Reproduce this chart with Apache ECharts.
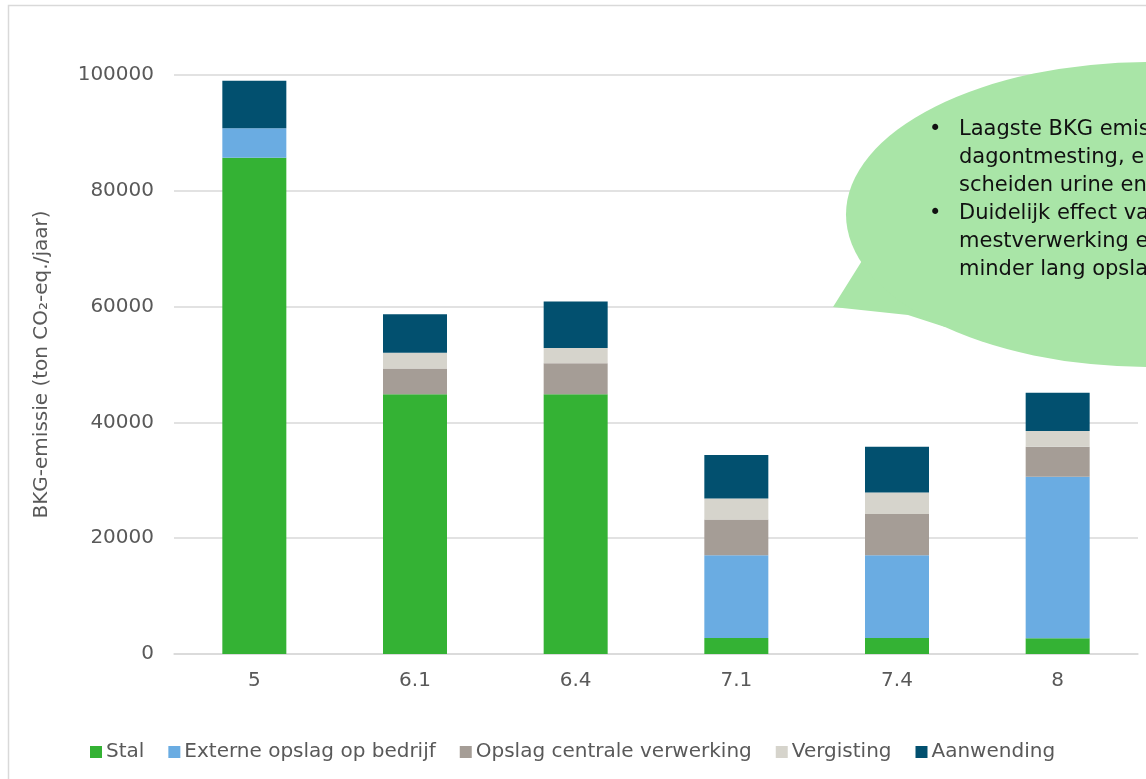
<!DOCTYPE html>
<html>
<head>
<meta charset="utf-8">
<script src="https://cdn.jsdelivr.net/npm/echarts@6/dist/echarts.min.js"></script>
<style>
html,body{margin:0;padding:0;background:#fff;}
#chart{width:1146px;height:779px;}
</style>
</head>
<body>
<div id="chart"></div>
<script>
var categories = ['5', '6.1', '6.4', '7.1', '7.4', '8'];
var seriesNames = ['Stal', 'Externe opslag op bedrijf', 'Opslag centrale verwerking', 'Vergisting', 'Aanwending'];
var stal = [85700, 44850, 44850, 2760, 2760, 2700];
var externeOpslag = [5100, 0, 0, 14290, 14290, 27900];
var opslagCentrale = [0, 4450, 5350, 6200, 7130, 5200];
var vergisting = [0, 2750, 2650, 3600, 3730, 2700];
var aanwending = [8200, 6650, 8050, 7500, 7900, 6600];
var colors = ['#34b234', '#6aace2', '#a59d96', '#d6d4cc', '#02506f'];
var yTicks = [0, 20000, 40000, 60000, 80000, 100000];
var bubbleLines = ['Laagste BKG emissie', 'dagontmesting, en', 'scheiden urine en', 'Duidelijk effect van', 'mestverwerking en', 'minder lang opslag'];

var FONT = 'DejaVu Sans';
var GRAY = '#595959';
var dataSets = [stal, externeOpslag, opslagCentrale, vergisting, aanwending];

var chart = echarts.init(document.getElementById('chart'));
var series = seriesNames.map(function (n, i) {
  return {
    name: n,
    type: 'bar',
    stack: 'total',
    barWidth: 64,
    data: dataSets[i],
    itemStyle: { color: colors[i] }
  };
});

chart.setOption({
  animation: false,
  backgroundColor: '#ffffff',
  textStyle: { fontFamily: FONT },
  grid: { left: 174, right: 8, top: 75, bottom: 125, containLabel: false },
  legend: {
    data: seriesNames,
    left: 85,
    top: 737,
    icon: 'rect',
    itemWidth: 12,
    itemHeight: 12,
    itemGap: 24,
    textStyle: { fontSize: 20, color: GRAY, fontFamily: FONT, padding: [0, 0, 0, -1] }
  },
  xAxis: {
    type: 'category',
    data: categories,
    axisLine: { show: true, lineStyle: { color: '#d9d9d9', width: 1.5 } },
    axisTick: { show: false },
    axisLabel: { fontSize: 20, color: GRAY, margin: 17, fontFamily: FONT }
  },
  yAxis: {
    type: 'value',
    min: yTicks[0],
    max: yTicks[yTicks.length - 1],
    interval: yTicks[1] - yTicks[0],
    name: 'BKG-emissie (ton CO\u2082-eq./jaar)',
    nameLocation: 'middle',
    nameRotate: 90,
    nameGap: 122,
    nameTextStyle: { fontSize: 20, color: GRAY, fontFamily: FONT },
    axisLine: { show: false },
    axisTick: { show: false },
    axisLabel: { fontSize: 20, color: GRAY, margin: 20, fontFamily: FONT, formatter: function (v) { return String(v); } },
    splitLine: { lineStyle: { color: '#d9d9d9', width: 1.5 } }
  },
  series: series,
  graphic: [
    {
      type: 'rect',
      z: 0,
      silent: true,
      shape: { x: 8.5, y: 5.5, width: 1300, height: 900 },
      style: { fill: 'none', stroke: '#d9d9d9', lineWidth: 1.5 }
    },
    {
      type: 'polygon',
      z: 100,
      silent: true,
      shape: { points: [[875, 240], [833, 307], [908, 315], [945, 327], [990, 300], [970, 245]] },
      style: { fill: '#a9e5a7' }
    },
    {
      type: 'circle',
      z: 100,
      silent: true,
      x: 1150,
      y: 214.5,
      scaleX: 304 / 152.5,
      shape: { cx: 0, cy: 0, r: 152.5 },
      style: { fill: '#a9e5a7' }
    },
    {
      type: 'text',
      z: 101,
      silent: true,
      x: 929,
      y: 116,
      style: { text: '\u2022\n\n\n\u2022', fontFamily: FONT, fontSize: 21, lineHeight: 28, fill: '#111111', verticalAlign: 'top' }
    },
    {
      type: 'text',
      z: 101,
      silent: true,
      x: 959,
      y: 116,
      style: { text: bubbleLines.join('\n'), fontFamily: FONT, fontSize: 21, lineHeight: 28, fill: '#111111', verticalAlign: 'top' }
    }
  ]
});
</script>
</body>
</html>
